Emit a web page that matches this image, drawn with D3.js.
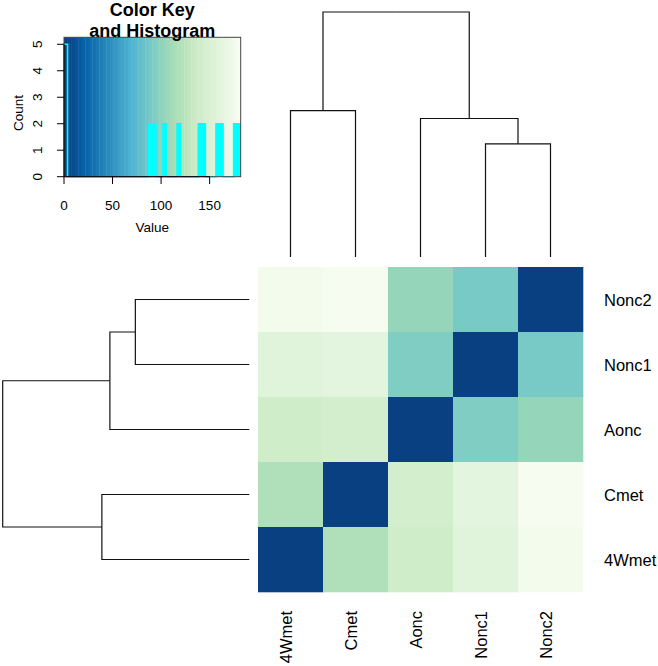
<!DOCTYPE html>
<html><head><meta charset="utf-8">
<script src="https://cdn.jsdelivr.net/npm/d3@7"></script>
<style>body{margin:0;background:#fff}svg{display:block;font-family:"Liberation Sans",Arial,Helvetica,sans-serif}</style>
</head><body><svg id="chart" width="658" height="666"></svg>
<script>
// ---- data ----
const samples = ["4Wmet", "Cmet", "Aonc", "Nonc1", "Nonc2"];          // matrix order
const colOrder = ["4Wmet", "Cmet", "Aonc", "Nonc1", "Nonc2"];         // left -> right
const rowOrder = ["Nonc2", "Nonc1", "Aonc", "Cmet", "4Wmet"];         // top -> bottom
const row4Wmet = [0, 117, 141, 159, 177];
const rowCmet  = [117, 0, 145, 163, 182];
const rowAonc  = [141, 145, 0, 93, 104];
const rowNonc1 = [159, 163, 93, 0, 89];
const rowNonc2 = [177, 182, 104, 89, 0];
const palette = ["#084081","#0868ac","#2b8cbe","#4eb3d3","#7bccc4","#a8ddb5","#ccebc5","#e0f3db","#f7fcf0"];
const nColors = 50;
const countTicks = [0, 1, 2, 3, 4, 5];
const valueTicks = [0, 50, 100, 150];
// dendrogram merge heights
const hNonc = 128, hAoncNonc = 156.6, hMet = 165.6, hRoot = 277;
const dendroTree = {height: hRoot, children: [
  {height: hMet, children: [{name: "4Wmet"}, {name: "Cmet"}]},
  {height: hAoncNonc, children: [{name: "Aonc"}, {height: hNonc, children: [{name: "Nonc1"}, {name: "Nonc2"}]}]}
]};

const matrix = [row4Wmet, rowCmet, rowAonc, rowNonc1, rowNonc2];
const val = (r, c) => matrix[samples.indexOf(r)][samples.indexOf(c)];
const allVals = matrix.flat();
const vmin = d3.min(allVals), vmax = d3.max(allVals);
const breaks = d3.range(nColors + 1).map(i => vmin + i * (vmax - vmin) / nColors);
const ramp = d3.piecewise(d3.interpolateRgb, palette);
const colors = d3.range(nColors).map(i => ramp(i / (nColors - 1)));
const binOf = v => Math.min(nColors - 1, Math.max(0, Math.ceil((v - vmin) / ((vmax - vmin) / nColors)) - 1));

const svg = d3.select("#chart");

// ---- heatmap ----
const x = d3.scaleBand().domain(colOrder).range([258, 583]);
const y = d3.scaleBand().domain(rowOrder).range([267, 592]);
const cells = [];
rowOrder.forEach(r => colOrder.forEach(c => cells.push({r, c, v: val(r, c)})));
svg.append("g").selectAll("rect").data(cells).join("rect")
  .attr("x", d => x(d.c)).attr("y", d => y(d.r))
  .attr("width", x.bandwidth() + 0.3).attr("height", y.bandwidth() + 0.3)
  .attr("fill", d => colors[binOf(d.v)]);

// row labels
svg.append("g").selectAll("text").data(rowOrder).join("text")
  .attr("x", 604).attr("y", d => y(d) + y.bandwidth() / 2 + 6)
  .attr("font-size", 16.5).attr("fill", "#000").text(d => d);
// column labels
svg.append("g").selectAll("text").data(colOrder).join("text")
  .attr("transform", d => `translate(${x(d) + x.bandwidth() / 2 + 1},611) rotate(-90)`)
  .attr("text-anchor", "end").attr("font-size", 16.5).attr("fill", "#000").text(d => d);

// ---- dendrograms ----
function drawDendro(posScale, hScale, horizontalLeaves) {
  const root = d3.hierarchy(dendroTree);
  root.eachAfter(n => {
    n.pos = n.children ? d3.mean(n.children, c => c.pos) : posScale(n.data.name) + posScale.bandwidth() / 2;
    n.h = n.children ? n.data.height : 0;
  });
  const segs = [];
  root.each(n => { if (n.children) n.children.forEach(c => segs.push([[n.pos, n.h], [c.pos, n.h], [c.pos, c.h]])); });
  const line = horizontalLeaves
    ? d3.line().x(d => hScale(d[1])).y(d => d[0])
    : d3.line().x(d => d[0]).y(d => hScale(d[1]));
  svg.append("g").selectAll("path").data(segs).join("path")
    .attr("d", line).attr("fill", "none").attr("stroke", "#111").attr("stroke-width", 1.2);
}
drawDendro(x, d3.scaleLinear().domain([0, hRoot]).range([257, 12]), false);
drawDendro(y, d3.scaleLinear().domain([0, hRoot]).range([249.3, 2.7]), true);

// ---- color key + histogram ----
const kx = d3.scaleLinear().domain([vmin, vmax]).range([64, 240.7]);
const counts = d3.range(nColors).map(i => allVals.filter(v => binOf(v) === i).length);
const maxCount = d3.max(counts);
const ky = d3.scaleLinear().domain([0, maxCount / 0.95]).range([176.7, 37.3]);
const key = svg.append("g");
key.selectAll("rect").data(d3.range(nColors)).join("rect")
  .attr("x", i => kx(breaks[i])).attr("y", ky.range()[1])
  .attr("width", i => kx(breaks[i + 1]) - kx(breaks[i]) + 0.4)
  .attr("height", ky.range()[0] - ky.range()[1])
  .attr("fill", i => colors[i]);
// histogram step line (bars rendered solid like the reference)
const hy = counts.concat([counts[counts.length - 1]]);
const stepLine = d3.line().curve(d3.curveStepAfter).x((d, i) => kx(breaks[i])).y(d => ky(d));
const stepArea = d3.area().curve(d3.curveStepAfter).x((d, i) => kx(breaks[i])).y0(ky(0)).y1(d => ky(d));
key.append("path").attr("d", stepArea(hy.map((d, i) => i === 0 ? 0 : d)))
  .attr("fill", "#00ffff").attr("stroke", "none");
key.append("path").attr("d", stepLine(hy))
  .attr("fill", "none").attr("stroke", "#00ffff").attr("stroke-width", 1.6);
// box
key.append("rect").attr("x", 64).attr("y", 37.3).attr("width", 240.7 - 64).attr("height", 176.7 - 37.3)
  .attr("fill", "none").attr("stroke", "#444").attr("stroke-width", 1);

// x axis
const xa = key.append("g").attr("font-size", 13.5);
xa.append("line").attr("x1", kx(valueTicks[0])).attr("x2", kx(valueTicks[valueTicks.length - 1]))
  .attr("y1", 176.7).attr("y2", 176.7).attr("stroke", "#000");
xa.selectAll("line.t").data(valueTicks).join("line").attr("class", "t")
  .attr("x1", d => kx(d)).attr("x2", d => kx(d)).attr("y1", 176.7).attr("y2", 184).attr("stroke", "#000");
xa.selectAll("text").data(valueTicks).join("text")
  .attr("x", d => kx(d)).attr("y", 210).attr("text-anchor", "middle").text(d => d);
key.append("text").attr("x", 152.3).attr("y", 232).attr("text-anchor", "middle").attr("font-size", 13.5).text("Value");

// y axis
const ya = key.append("g").attr("font-size", 13.5);
ya.append("line").attr("x1", 64).attr("x2", 64)
  .attr("y1", ky(countTicks[0])).attr("y2", ky(countTicks[countTicks.length - 1])).attr("stroke", "#000");
ya.selectAll("line.t").data(countTicks).join("line").attr("class", "t")
  .attr("x1", 57).attr("x2", 64).attr("y1", d => ky(d)).attr("y2", d => ky(d)).attr("stroke", "#000");
ya.selectAll("text").data(countTicks).join("text")
  .attr("transform", d => `translate(42,${ky(d)}) rotate(-90)`)
  .attr("text-anchor", "middle").text(d => d);
key.append("text").attr("transform", "translate(22.5,113) rotate(-90)")
  .attr("text-anchor", "middle").attr("font-size", 13.5).text("Count");

// title
key.append("text").attr("x", 152.3).attr("y", 15.7).attr("text-anchor", "middle")
  .attr("font-size", 18).attr("font-weight", "bold").text("Color Key");
key.append("text").attr("x", 152.3).attr("y", 36.7).attr("text-anchor", "middle")
  .attr("font-size", 18).attr("font-weight", "bold").text("and Histogram");
</script></body></html>
